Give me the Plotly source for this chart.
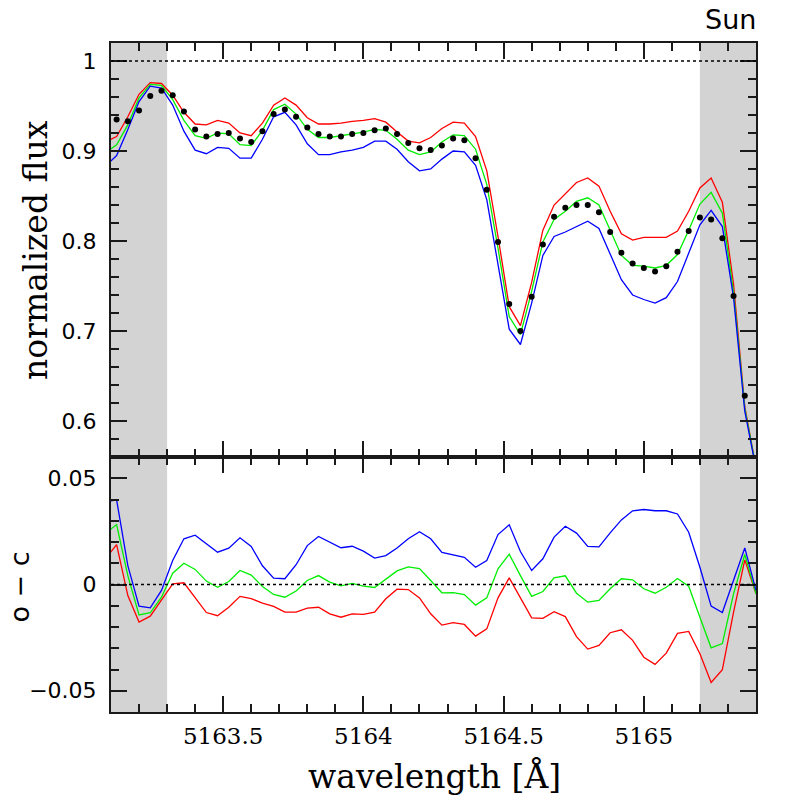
import plotly.graph_objects as go

# ---------------- data ----------------
wavelength = [
    5163.08, 5163.12, 5163.16, 5163.20, 5163.24, 5163.28, 5163.32, 5163.36, 5163.40, 5163.44,
    5163.48, 5163.52, 5163.56, 5163.60, 5163.64, 5163.68, 5163.72, 5163.76, 5163.80, 5163.84,
    5163.88, 5163.92, 5163.96, 5164.00, 5164.04, 5164.08, 5164.12, 5164.16, 5164.20, 5164.24,
    5164.28, 5164.32, 5164.36, 5164.40, 5164.44, 5164.48, 5164.52, 5164.56, 5164.60, 5164.64,
    5164.68, 5164.72, 5164.76, 5164.80, 5164.84, 5164.88, 5164.92, 5164.96, 5165.00, 5165.04,
    5165.08, 5165.12, 5165.16, 5165.20, 5165.24, 5165.28, 5165.32, 5165.36, 5165.40,
]

flux_observed = [
    0.922, 0.935, 0.933, 0.945, 0.961, 0.967, 0.962, 0.944, 0.924, 0.916,
    0.919, 0.920, 0.914, 0.910, 0.922, 0.941, 0.946, 0.938, 0.926, 0.919,
    0.916, 0.916, 0.919, 0.920, 0.923, 0.925, 0.919, 0.909, 0.903, 0.901,
    0.906, 0.914, 0.912, 0.892, 0.857, 0.799, 0.730, 0.700, 0.738, 0.796,
    0.827, 0.837, 0.840, 0.840, 0.832, 0.810, 0.787, 0.775, 0.770, 0.766,
    0.772, 0.788, 0.811, 0.826, 0.824, 0.803, 0.739, 0.628, 0.544,
]

flux_model_red = [
    0.910, 0.916, 0.938, 0.963, 0.976, 0.975, 0.962, 0.943, 0.930, 0.929,
    0.934, 0.931, 0.920, 0.917, 0.931, 0.951, 0.959, 0.951, 0.937, 0.930,
    0.930, 0.931, 0.933, 0.934, 0.936, 0.932, 0.921, 0.911, 0.909, 0.915,
    0.925, 0.932, 0.931, 0.916, 0.878, 0.805, 0.727, 0.706, 0.754, 0.812,
    0.840, 0.852, 0.865, 0.870, 0.861, 0.833, 0.808, 0.801, 0.804, 0.804,
    0.804, 0.811, 0.833, 0.859, 0.870, 0.843, 0.752, 0.616, 0.548,
]

flux_model_green = [
    0.898, 0.907, 0.929, 0.959, 0.974, 0.973, 0.957, 0.934, 0.917, 0.914,
    0.920, 0.919, 0.907, 0.906, 0.923, 0.946, 0.952, 0.941, 0.924, 0.915,
    0.915, 0.917, 0.919, 0.921, 0.924, 0.923, 0.913, 0.901, 0.896, 0.899,
    0.910, 0.918, 0.917, 0.902, 0.863, 0.792, 0.716, 0.696, 0.744, 0.799,
    0.824, 0.833, 0.844, 0.848, 0.840, 0.812, 0.784, 0.773, 0.772, 0.770,
    0.773, 0.785, 0.812, 0.841, 0.854, 0.831, 0.743, 0.614, 0.548,
]

flux_model_blue = [
    0.883, 0.895, 0.924, 0.955, 0.972, 0.970, 0.951, 0.922, 0.901, 0.897,
    0.904, 0.903, 0.892, 0.892, 0.913, 0.938, 0.943, 0.929, 0.908, 0.896,
    0.896, 0.899, 0.901, 0.904, 0.911, 0.911, 0.902, 0.888, 0.878, 0.880,
    0.891, 0.900, 0.899, 0.884, 0.846, 0.776, 0.702, 0.685, 0.731, 0.784,
    0.805, 0.810, 0.816, 0.822, 0.814, 0.786, 0.757, 0.740, 0.735, 0.731,
    0.737, 0.755, 0.786, 0.818, 0.834, 0.816, 0.737, 0.611, 0.547,
]

resid_red = [
    0.0120, 0.0188, -0.0052, -0.0177, -0.0149, -0.0075, 0.0003, 0.0008, -0.0063, -0.0132,
    -0.0147, -0.0107, -0.0056, -0.0066, -0.0088, -0.0103, -0.0130, -0.0130, -0.0111, -0.0107,
    -0.0138, -0.0154, -0.0138, -0.0141, -0.0130, -0.0067, -0.0022, -0.0024, -0.0063, -0.0138,
    -0.0191, -0.0179, -0.0188, -0.0243, -0.0209, -0.0063, 0.0031, -0.0064, -0.0157, -0.0159,
    -0.0128, -0.0151, -0.0245, -0.0304, -0.0287, -0.0227, -0.0213, -0.0263, -0.0342, -0.0376,
    -0.0323, -0.0230, -0.0221, -0.0326, -0.0461, -0.0401, -0.0130, 0.0116, -0.0044,
]

resid_green = [
    0.0240, 0.0282, 0.0042, -0.0143, -0.0133, -0.0060, 0.0053, 0.0100, 0.0071, 0.0016,
    -0.0013, 0.0014, 0.0066, 0.0044, -0.0009, -0.0047, -0.0060, -0.0031, 0.0019, 0.0042,
    0.0011, -0.0006, 0.0005, -0.0008, -0.0014, 0.0025, 0.0064, 0.0083, 0.0075, 0.0019,
    -0.0039, -0.0038, -0.0047, -0.0097, -0.0063, 0.0074, 0.0143, 0.0042, -0.0056, -0.0033,
    0.0031, 0.0041, -0.0041, -0.0083, -0.0075, -0.0020, 0.0027, 0.0022, -0.0020, -0.0041,
    -0.0013, 0.0028, -0.0008, -0.0154, -0.0298, -0.0278, -0.0044, 0.0141, -0.0044,
]

resid_blue = [
    0.0390, 0.0398, 0.0089, -0.0102, -0.0110, -0.0028, 0.0113, 0.0215, 0.0232, 0.0191,
    0.0152, 0.0171, 0.0220, 0.0179, 0.0088, 0.0030, 0.0027, 0.0093, 0.0183, 0.0226,
    0.0199, 0.0173, 0.0180, 0.0157, 0.0124, 0.0136, 0.0172, 0.0215, 0.0248, 0.0215,
    0.0151, 0.0140, 0.0128, 0.0081, 0.0113, 0.0235, 0.0281, 0.0155, 0.0066, 0.0121,
    0.0223, 0.0274, 0.0242, 0.0179, 0.0177, 0.0243, 0.0304, 0.0347, 0.0353, 0.0347,
    0.0347, 0.0332, 0.0246, 0.0081, -0.0102, -0.0132, 0.0016, 0.0172, -0.0028,
]

masked_ranges = [(5163.1, 5163.3), (5165.2, 5165.4)]
x_range = [5163.1, 5165.4]
flux_range = [0.56, 1.02]
resid_range = [-0.06, 0.06]
x_tick_values = [5163.5, 5164.0, 5164.5, 5165.0]
x_tick_labels = ["5163.5", "5164", "5164.5", "5165"]
flux_ticks = [0.6, 0.7, 0.8, 0.9, 1.0]
flux_tick_labels = ["0.6", "0.7", "0.8", "0.9", "1"]
resid_ticks = [-0.05, 0.0, 0.05]
resid_tick_labels = ["\u22120.05", "0", "0.05"]
star_name = "Sun"

# ---------------- figure ----------------
RED, GREEN, BLUE = "#ff0000", "#00ee00", "#0000ff"
LW = 1.3
fig = go.Figure()

for model, col in [(flux_model_red, RED), (flux_model_green, GREEN), (flux_model_blue, BLUE)]:
    fig.add_trace(go.Scatter(x=wavelength, y=model, mode="lines",
                             line=dict(color=col, width=LW), xaxis="x", yaxis="y",
                             showlegend=False, hoverinfo="skip"))
fig.add_trace(go.Scatter(x=wavelength, y=flux_observed, mode="markers",
                         marker=dict(color="black", size=6), xaxis="x", yaxis="y",
                         showlegend=False, hoverinfo="skip"))

for res, col in [(resid_red, RED), (resid_green, GREEN), (resid_blue, BLUE)]:
    fig.add_trace(go.Scatter(x=wavelength, y=res, mode="lines",
                             line=dict(color=col, width=LW), xaxis="x2", yaxis="y2",
                             showlegend=False, hoverinfo="skip"))

shapes = []
for lo, hi in masked_ranges:
    for xr, yr in [("x", "y domain"), ("x2", "y2 domain")]:
        shapes.append(dict(type="rect", xref=xr, yref=yr, x0=lo, x1=hi, y0=0, y1=1,
                           fillcolor="#d3d3d3", line=dict(width=0), layer="below"))
shapes.append(dict(type="line", xref="x domain", yref="y", x0=0, x1=1, y0=1.0, y1=1.0,
                   line=dict(color="black", width=1.6, dash="dot"), layer="above"))
shapes.append(dict(type="line", xref="x2 domain", yref="y2", x0=0, x1=1, y0=0.0, y1=0.0,
                   line=dict(color="black", width=1.6, dash="dot"), layer="above"))

FRAME = "#1a1a1a"
axis_common = dict(showline=True, linecolor=FRAME, linewidth=2, mirror="allticks",
                   ticks="inside", tickcolor=FRAME, tickwidth=2, showgrid=False,
                   zeroline=False)

L, R, T, B = 111, 41, 43, 85
H_PLOT = 797 - T - B
split = 255 / H_PLOT

fig.update_layout(
    width=797, height=797,
    margin=dict(l=L, r=R, t=T, b=B),
    paper_bgcolor="white", plot_bgcolor="white",
    shapes=shapes,
    xaxis=dict(**axis_common, range=x_range, domain=[0, 1], anchor="y",
               tickvals=x_tick_values, ticklen=16, showticklabels=False,
               minor=dict(ticks="inside", dtick=0.1, tick0=5163.0, ticklen=8,
                          tickcolor=FRAME, tickwidth=2)),
    yaxis=dict(**axis_common, range=flux_range, domain=[split, 1], anchor="x",
               tickvals=flux_ticks, ticktext=flux_tick_labels, ticklen=16,
               tickfont=dict(family="DejaVu Sans", size=22, color="black"),
               ticklabelstandoff=8,
               minor=dict(ticks="inside", dtick=0.02, tick0=0.0, ticklen=8,
                          tickcolor=FRAME, tickwidth=2)),
    xaxis2=dict(**axis_common, range=x_range, domain=[0, 1], anchor="y2", matches="x",
                tickvals=x_tick_values, ticktext=x_tick_labels, ticklen=16,
                tickfont=dict(family="DejaVu Serif", size=23, color="black"),
                ticklabelstandoff=2,
                minor=dict(ticks="inside", dtick=0.1, tick0=5163.0, ticklen=8,
                           tickcolor=FRAME, tickwidth=2)),
    yaxis2=dict(**axis_common, range=resid_range, domain=[0, split], anchor="x2",
                tickvals=resid_ticks, ticktext=resid_tick_labels, ticklen=16,
                tickfont=dict(family="DejaVu Sans", size=22, color="black"),
                ticklabelstandoff=8,
                minor=dict(ticks="inside", dtick=0.01, tick0=0.0, ticklen=8,
                           tickcolor=FRAME, tickwidth=2)),
)

def px_x(p):
    return (p - L) / (797 - L - R)

def px_y(p):
    return (797 - B - p) / H_PLOT

fig.add_annotation(text="normalized flux", xref="paper", yref="paper",
                   x=px_x(35), y=px_y(250), xanchor="center", yanchor="middle",
                   textangle=-90, showarrow=False,
                   font=dict(family="DejaVu Serif", size=33, color="black"))
fig.add_annotation(text="o \u2212 c", xref="paper", yref="paper",
                   x=px_x(1), y=px_y(587), xanchor="left", yanchor="middle",
                   textangle=-90, showarrow=False,
                   font=dict(family="DejaVu Sans", size=27, color="black"))
fig.add_annotation(text="wavelength [Å]", xref="paper", yref="paper",
                   x=px_x(434), y=px_y(776), xanchor="center", yanchor="middle",
                   showarrow=False,
                   font=dict(family="DejaVu Serif", size=33, color="black"))
fig.add_annotation(text=star_name, xref="paper", yref="paper",
                   x=px_x(758), y=px_y(20), xanchor="right", yanchor="middle",
                   showarrow=False,
                   font=dict(family="DejaVu Sans", size=27, color="black"))

fig.write_html("out.html", config={"displayModeBar": False},
               post_script="document.body.style.margin='0px';")
